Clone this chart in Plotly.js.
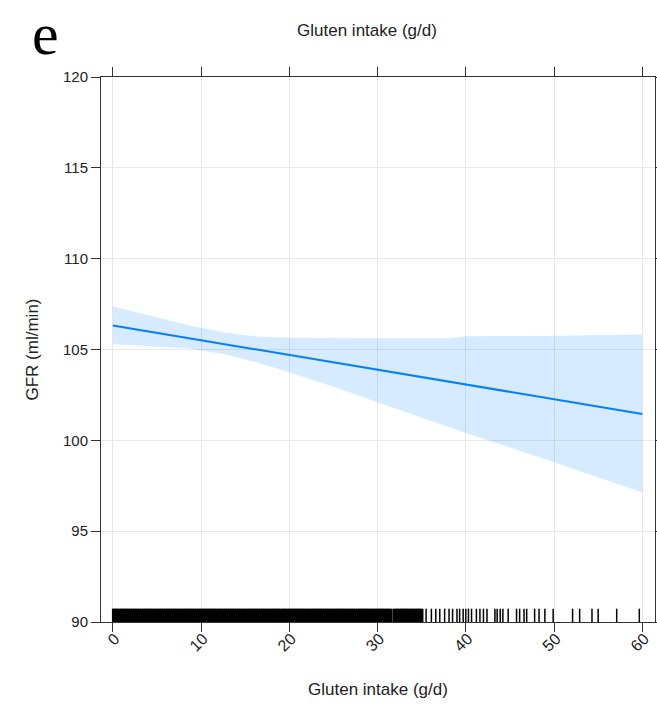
<!DOCTYPE html>
<html>
<head>
<meta charset="utf-8">
<script src="https://cdn.plot.ly/plotly-3.0.1.min.js"></script>
<style>html,body{margin:0;padding:0;background:#fff;}#chart{width:657px;height:707px;}</style>
</head>
<body>
<div id="chart"></div>
<script>
// Fitted line (GFR vs gluten intake)
const fitX = [0, 10, 20, 30, 40, 50, 60];
const fitY = [106.32, 105.51, 104.70, 103.88, 103.07, 102.26, 101.45];

// Confidence band
const bandX = [0, 1.1, 4.9, 8.7, 12.5, 16.25, 20, 25, 30, 38, 40, 50, 55, 60];
const bandUpper = [107.37, 107.24, 106.78, 106.32, 105.95, 105.71, 105.64, 105.62, 105.62, 105.62, 105.73, 105.75, 105.81, 105.83];
const bandLower = [105.30, 105.27, 105.17, 105.06, 104.75, 104.30, 103.75, 102.95, 102.10, 100.75, 100.40, 98.80, 97.95, 97.13];

// Rug: observed intakes (dense region, then sparse individual values)
const rugDense = [0.1,0.25,0.5,0.75,1,1.25,1.5,1.75,2,2.25,2.5,2.75,3,3.25,3.5,3.75,4,4.25,4.5,4.75,5,5.25,5.5,5.75,6,6.25,6.5,6.75,7,7.25,7.5,7.75,8,8.25,8.5,8.75,9,9.25,9.5,9.75,10,10.25,10.5,10.75,11,11.25,11.5,11.75,12,12.25,12.5,12.75,13,13.25,13.5,13.75,14,14.25,14.5,14.75,15,15.25,15.5,15.75,16,16.25,16.5,16.75,17,17.25,17.5,17.75,18,18.25,18.5,18.75,19,19.25,19.5,19.75,20,20.25,20.5,20.75,21,21.25,21.5,21.75,22,22.25,22.5,22.75,23,23.25,23.5,23.75,24,24.25,24.5,24.75,25,25.25,25.5,25.75,26,26.25,26.5,26.75,27,27.25,27.5,27.75,28,28.25,28.5,28.75,29,29.25,29.5,29.75,30,30.25,30.5,30.75,31,31.25,31.5,
  32.05,32.25,32.5,32.75,33,33.25,33.5,33.75,34,34.25,34.5,34.75,35.0];
const rugSparse = [31.8,35.5,36.1,36.6,37.05,37.6,38.1,38.5,39.0,39.3,39.7,40.0,40.3,40.65,41.2,41.6,42.0,42.4,43.3,43.55,43.9,44.2,44.8,45.75,46.1,46.6,46.9,47.8,48.3,48.96,49.9,52.1,52.9,54.3,55.0,57.1,59.66];
const rugBase = 90;

const xTicks = [0, 10, 20, 30, 40, 50, 60];
const yTicks = [90, 95, 100, 105, 110, 115, 120];

const FONT = 'Liberation Sans, Arial, sans-serif';
const TXT = '#222';

const traces = [
  {x: bandX, y: bandLower, type: 'scatter', mode: 'lines', line: {width: 0, color: 'rgba(0,0,0,0)'}, hoverinfo: 'skip', showlegend: false},
  {x: bandX, y: bandUpper, type: 'scatter', mode: 'lines', fill: 'tonexty', fillcolor: 'rgba(0,128,255,0.16)', line: {width: 0, color: 'rgba(0,0,0,0)'}, hoverinfo: 'skip', showlegend: false},
  {x: fitX, y: fitY, type: 'scatter', mode: 'lines', line: {color: '#0080ff', width: 2}, showlegend: false},
  {x: rugDense, y: rugDense.map(() => rugBase), type: 'scatter', mode: 'markers', cliponaxis: true,
   marker: {symbol: 'line-ns', size: 19, color: '#000', line: {color: '#000', width: 3.6}}, showlegend: false},
  {x: rugSparse, y: rugSparse.map(() => rugBase), type: 'scatter', mode: 'markers', cliponaxis: true,
   marker: {symbol: 'line-ns', size: 19, color: '#000', line: {color: '#000', width: 1.5}}, showlegend: false}
];

const layout = {
  width: 657, height: 707,
  margin: {l: 101, r: 2, t: 77, b: 85},
  paper_bgcolor: '#fff', plot_bgcolor: '#fff',
  showlegend: false,
  font: {family: FONT, size: 15, color: TXT},
  title: {text: 'Gluten intake (g/d)', font: {family: FONT, size: 17, color: TXT}, x: 0.5586, xref: 'container', xanchor: 'center', y: 0.958, yref: 'container', yanchor: 'middle'},
  xaxis: {
    range: [-1.34, 61.44], tickvals: xTicks, ticktext: xTicks.map(String), tickangle: -45,
    ticks: 'outside', ticklen: 9, tickcolor: '#333', tickwidth: 1,
    showline: true, linecolor: '#333', linewidth: 1, mirror: 'ticks',
    showgrid: true, gridcolor: '#e8e8e8', gridwidth: 1, zeroline: false,
    tickfont: {family: FONT, size: 16, color: TXT}, ticklabelshift: 2, ticklabelstandoff: -9,
    automargin: false
  },
  yaxis: {
    range: [90, 120], tickvals: yTicks, ticktext: yTicks.map(String),
    ticks: 'outside', ticklen: 9, tickcolor: '#333', tickwidth: 1,
    showline: true, linecolor: '#333', linewidth: 1, mirror: 'ticks',
    showgrid: true, gridcolor: '#e8e8e8', gridwidth: 1, zeroline: false,
    tickfont: {family: FONT, size: 15, color: TXT},
    title: {text: 'GFR (ml/min)', font: {family: FONT, size: 17, color: TXT}, standoff: 20},
    automargin: false
  },
  annotations: [
    {text: 'e', xref: 'paper', yref: 'paper', x: -0.0993, y: 1.078, xanchor: 'center', yanchor: 'middle', showarrow: false,
     font: {family: 'Liberation Serif, Times New Roman, serif', size: 60, color: '#000'}},
    {text: 'Gluten intake (g/d)', xref: 'paper', yref: 'paper', x: 0.5, y: -0.123, xanchor: 'center', yanchor: 'middle', showarrow: false,
     font: {family: FONT, size: 17, color: TXT}}
  ]
};

Plotly.newPlot('chart', traces, layout, {displayModeBar: false, staticPlot: true});
</script>
</body>
</html>
